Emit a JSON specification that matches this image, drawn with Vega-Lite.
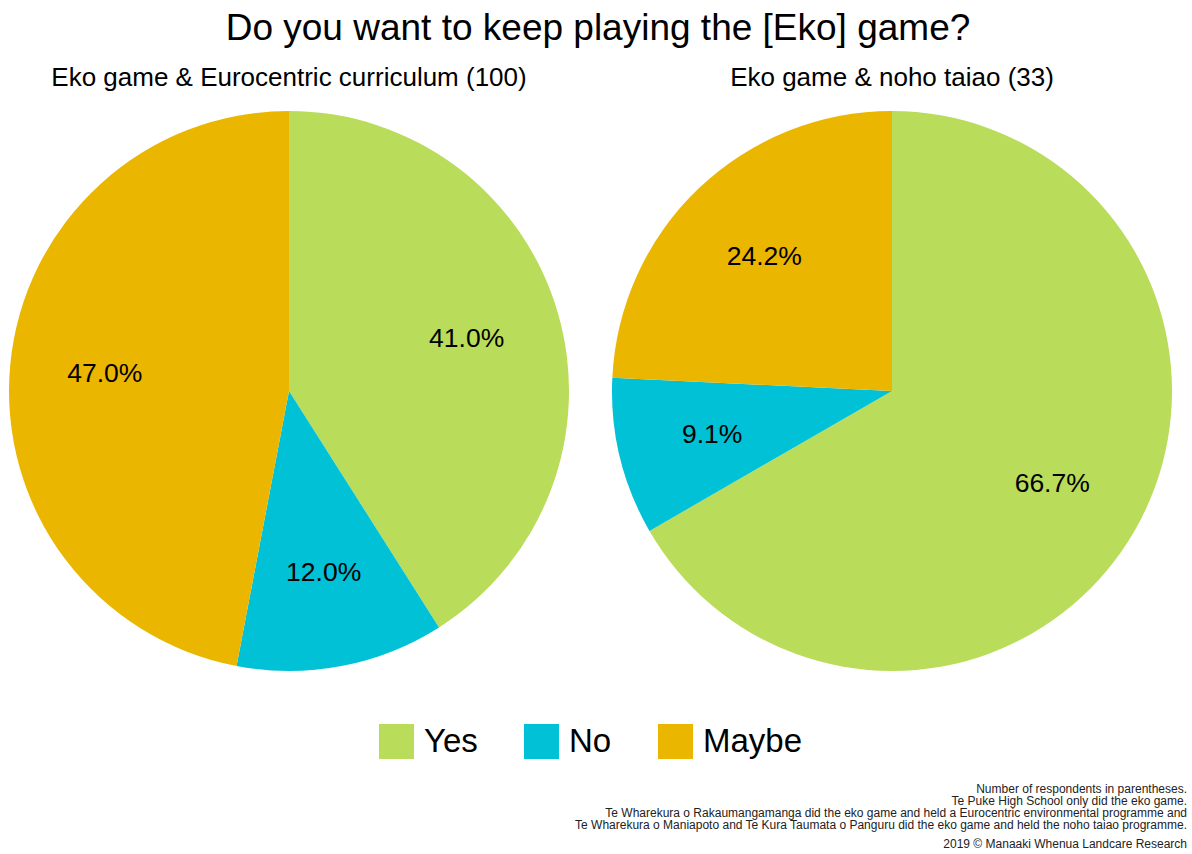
{
  "$schema": "https://vega.github.io/schema/vega-lite/v6.json",
  "padding": {"left": 9, "top": 10, "right": 5, "bottom": 6},
  "background": "white",
  "title": {"text": "Do you want to keep playing the [Eko] game?", "fontSize": 37, "font": "Liberation Sans", "fontWeight": "normal", "color": "#000", "anchor": "middle", "offset": 17},
  "config": {"view": {"stroke": null}, "font": "Liberation Sans"},
  "spacing": 10,
  "vconcat": [
    {
      "data": {"values": [
        {"group": "Eko game & Eurocentric curriculum (100)", "answer": "Yes", "idx": 1, "share": 0.41},
        {"group": "Eko game & Eurocentric curriculum (100)", "answer": "No", "idx": 2, "share": 0.12},
        {"group": "Eko game & Eurocentric curriculum (100)", "answer": "Maybe", "idx": 3, "share": 0.47},
        {"group": "Eko game & noho taiao (33)", "answer": "Yes", "idx": 1, "share": 0.6667},
        {"group": "Eko game & noho taiao (33)", "answer": "No", "idx": 2, "share": 0.0909},
        {"group": "Eko game & noho taiao (33)", "answer": "Maybe", "idx": 3, "share": 0.2424}
      ]},
      "facet": {"column": {"field": "group", "type": "nominal", "title": null,
        "sort": ["Eko game & Eurocentric curriculum (100)", "Eko game & noho taiao (33)"],
        "header": {"labelFontSize": 26, "labelColor": "#000", "labelFont": "Liberation Sans", "labelPadding": 20}}},
      "spacing": 43,
      "spec": {
        "width": 560,
        "height": 560,
        "layer": [
          {
            "mark": {"type": "arc", "outerRadius": 280},
            "encoding": {
              "theta": {"field": "share", "type": "quantitative", "stack": true},
              "order": {"field": "idx", "type": "quantitative"},
              "color": {"field": "answer", "type": "nominal",
                "scale": {"domain": ["Yes", "No", "Maybe"], "range": ["#b9dc5a", "#00c1d5", "#ebb600"]},
                "legend": {"orient": "none", "legendX": 370, "legendY": 613, "direction": "horizontal", "title": null,
                  "symbolType": "square", "symbolSize": 1225, "symbolStrokeWidth": 0, "labelFontSize": 33,
                  "labelColor": "#000", "labelFont": "Liberation Sans", "columnPadding": 46, "labelOffset": 10}}
            }
          },
          {
            "mark": {"type": "text", "radius": 185, "fontSize": 26.5, "color": "#000"},
            "encoding": {
              "theta": {"field": "share", "type": "quantitative", "stack": true},
              "order": {"field": "idx", "type": "quantitative"},
              "text": {"field": "share", "type": "quantitative", "format": ".1%"}
            }
          }
        ]
      }
    },
    {
      "width": 1178,
      "height": 115,
      "data": {"values": [{}]},
      "layer": [
        {
          "mark": {"type": "text", "x": "width", "y": "height", "align": "right", "baseline": "bottom",
            "fontSize": 12, "lineHeight": 12, "color": "#222", "font": "Liberation Sans",
            "text": ["Number of respondents in parentheses.", "Te Puke High School only did the eko game.", "Te Wharekura o Rakaumangamanga did the eko game and held a Eurocentric environmental programme and", "Te Wharekura o Maniapoto and Te Kura Taumata o Panguru did the eko game and held the noho taiao programme."]},
          "encoding": {}
        },
        {
          "mark": {"type": "text", "x": "width", "y": "height", "dy": 55, "align": "right", "baseline": "bottom",
            "fontSize": 12, "color": "#222", "font": "Liberation Sans",
            "text": "2019 © Manaaki Whenua Landcare Research"},
          "encoding": {}
        }
      ]
    }
  ]
}
